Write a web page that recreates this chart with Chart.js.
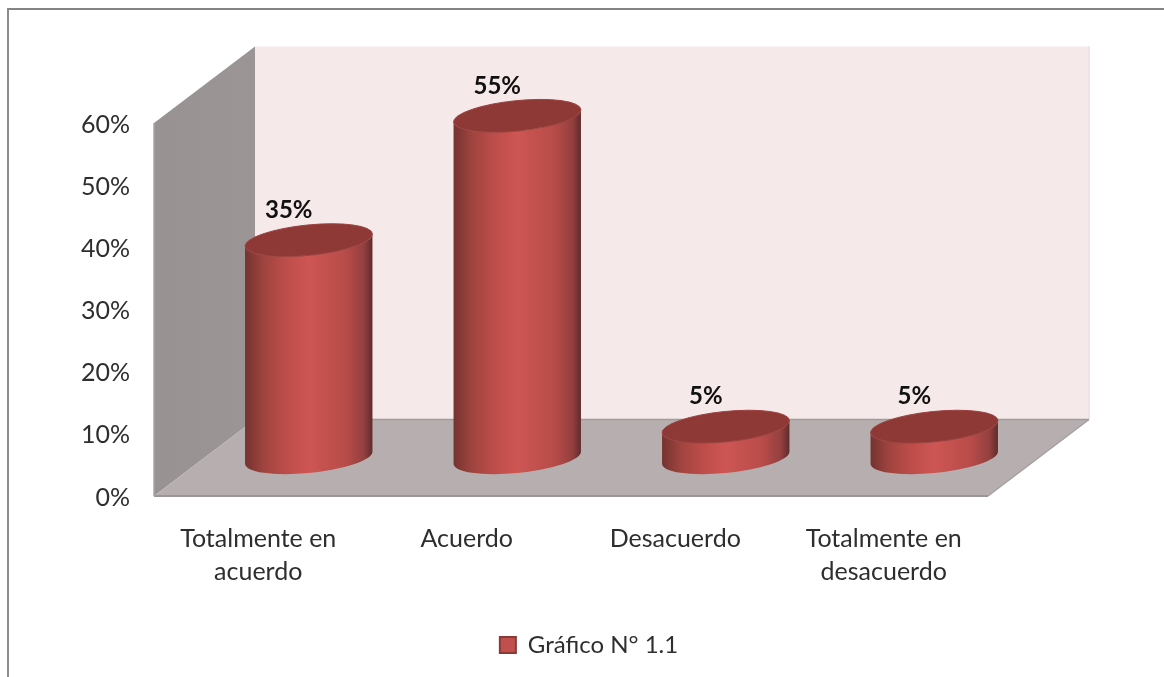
<!DOCTYPE html>
<html lang="es">
<head>
  <meta charset="UTF-8" />
  <title>Gráfico N° 1.1</title>
  <style>
    html, body { margin: 0; padding: 0; background: #fff; overflow: hidden; }
    #frame {
      position: absolute;
      left: 7px; top: 8px; right: 0; bottom: 0;
      border-top: 2px solid #848484;
      border-left: 2px solid #8c8c8c;
    }
    #chart { position: absolute; left: 0; top: 0; }
  </style>
</head>
<body>
  <div id="frame"></div>
  <canvas id="chart" width="1164" height="677"></canvas>

  <script src="https://cdn.jsdelivr.net/npm/chart.js"></script>
  <script>
    const categories = [['Totalmente en', 'acuerdo'], 'Acuerdo', 'Desacuerdo', ['Totalmente en', 'desacuerdo']];
    const values = [35, 55, 5, 5];
    const seriesName = 'Gráfico N° 1.1';
    const yMax = 60;
    const yStep = 10;

    // offset of the back wall from the front of the box
    const depthX = 101;
    const depthY = 76.5;
    const textColor = '#2e2e2e';
    const fontFamily = 'Lato, "Open Sans", sans-serif';

    function poly(ctx, pts, fill) {
      ctx.beginPath();
      pts.forEach((p, i) => i ? ctx.lineTo(p[0], p[1]) : ctx.moveTo(p[0], p[1]));
      ctx.closePath();
      ctx.fillStyle = fill;
      ctx.fill();
    }

    function line(ctx, x1, y1, x2, y2, color, width) {
      ctx.beginPath();
      ctx.moveTo(x1, y1);
      ctx.lineTo(x2, y2);
      ctx.strokeStyle = color;
      ctx.lineWidth = width;
      ctx.stroke();
    }

    // back wall, side wall and floor
    const box3d = {
      id: 'box3d',
      afterLayout(chart) {
        // legend is centred under the page, not under the plot
        chart.legend.left += 95;
        chart.legend.right += 95;
      },
      beforeDatasetsDraw(chart) {
        const { ctx, chartArea: a } = chart;
        ctx.save();
        poly(ctx, [[a.left + depthX, a.top - depthY], [a.right + depthX, a.top - depthY],
          [a.right + depthX, a.bottom - depthY], [a.left + depthX, a.bottom - depthY]], '#f5e9e9');
        const side = ctx.createLinearGradient(a.left, 0, a.left + depthX, 0);
        side.addColorStop(0, '#989292');
        side.addColorStop(1, '#9b9595');
        poly(ctx, [[a.left, a.top], [a.left + depthX, a.top - depthY],
          [a.left + depthX, a.bottom - depthY], [a.left, a.bottom]], side);
        poly(ctx, [[a.left, a.bottom], [a.left + depthX, a.bottom - depthY],
          [a.right + depthX, a.bottom - depthY], [a.right, a.bottom]], '#b7afaf');
        line(ctx, a.right + depthX, a.top - depthY, a.right + depthX, a.bottom - depthY, '#ecdfdf', 1.5);
        line(ctx, a.left + depthX, a.bottom - depthY, a.right + depthX, a.bottom - depthY, '#a19b9b', 1.5);
        line(ctx, a.left, a.bottom, a.right, a.bottom, '#9a9696', 2);
        line(ctx, a.right, a.bottom, a.right + depthX, a.bottom - depthY, '#a3a0a0', 1.5);
        line(ctx, a.left, a.top, a.left, a.bottom, '#a8a4a4', 1.5);
        ctx.restore();
      }
    };

    // cylinders and their value labels, placed from the bar elements
    const cylinders = {
      id: 'cylinders',
      afterDatasetsDraw(chart) {
        const { ctx } = chart;
        const rx = 64, ry = 15.2, rot = -0.1;
        const t0 = Math.atan(-(ry * Math.sin(rot)) / (rx * Math.cos(rot)));
        ctx.save();
        chart.getDatasetMeta(0).data.forEach((bar, i) => {
          const cx = bar.x + depthX / 2;
          const topY = bar.y - depthY / 2;
          const botY = bar.base - depthY / 2;

          const g = ctx.createLinearGradient(cx - rx, 0, cx + rx, 0);
          g.addColorStop(0, '#733330');
          g.addColorStop(0.15, '#a0443f');
          g.addColorStop(0.32, '#bd4d4a');
          g.addColorStop(0.5, '#cd5653');
          g.addColorStop(0.78, '#b94c49');
          g.addColorStop(0.93, '#944040');
          g.addColorStop(1, '#5e2a29');
          ctx.beginPath();
          ctx.ellipse(cx, botY, rx, ry, rot, t0, t0 + Math.PI);
          ctx.ellipse(cx, topY, rx, ry, rot, t0 + Math.PI, t0, true);
          ctx.closePath();
          ctx.fillStyle = g;
          ctx.fill();

          ctx.beginPath();
          ctx.ellipse(cx, topY, rx, ry, rot, 0, Math.PI * 2);
          ctx.fillStyle = '#8f3937';
          ctx.fill();
          ctx.strokeStyle = '#9c4240';
          ctx.lineWidth = 1;
          ctx.stroke();

          ctx.fillStyle = '#111';
          ctx.font = 'bold 24px ' + fontFamily;
          ctx.textAlign = 'center';
          ctx.textBaseline = 'middle';
          ctx.fillText(values[i] + '%', cx - 20, topY - 30);
        });
        ctx.restore();
      }
    };

    new Chart(document.getElementById('chart').getContext('2d'), {
      type: 'bar',
      data: {
        labels: categories,
        datasets: [{
          label: seriesName,
          data: values,
          backgroundColor: 'transparent'
        }]
      },
      plugins: [box3d, cylinders],
      options: {
        responsive: false,
        animation: false,
        layout: { padding: { left: 0, right: 176, top: 123, bottom: 10 } },
        scales: {
          x: {
            grid: { display: false },
            border: { display: false },
            afterFit(scale) { scale.height = 127; },
            ticks: {
              autoSkip: false,
              maxRotation: 0,
              padding: 18,
              color: textColor,
              font: { family: fontFamily, size: 25, lineHeight: 1.32 }
            }
          },
          y: {
            min: 0,
            max: yMax,
            grid: { display: false },
            border: { display: false },
            afterFit(scale) { scale.width = 154; },
            ticks: {
              stepSize: yStep,
              padding: 16,
              labelOffset: 1.5,
              color: textColor,
              font: { family: fontFamily, size: 25 },
              callback: v => v + '%'
            }
          }
        },
        plugins: {
          title: { display: false },
          tooltip: { enabled: false },
          legend: {
            position: 'bottom',
            labels: {
              boxWidth: 16,
              boxHeight: 16,
              color: textColor,
              font: { family: fontFamily, size: 24 },
              generateLabels: () => [{
                text: seriesName,
                fillStyle: '#c0504d',
                strokeStyle: '#8c3836',
                lineWidth: 2,
                fontColor: textColor
              }]
            }
          }
        }
      }
    });
  </script>
</body>
</html>
